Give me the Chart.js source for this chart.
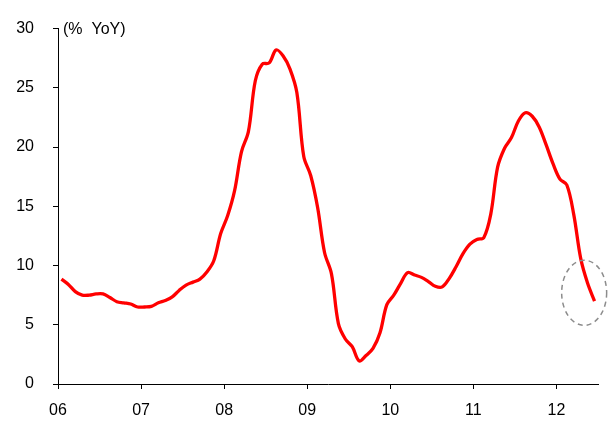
<!DOCTYPE html>
<html>
<head>
<meta charset="utf-8">
<script src="https://cdn.jsdelivr.net/npm/chart.js@4.4.1/dist/chart.umd.min.js"></script>
<style>
  body { margin: 0; background: #fff; }
</style>
</head>
<body>
<canvas id="yoyChart" width="612" height="422"></canvas>
<script>
// monthly values, Jan 2006 .. Jun 2012 (% YoY)
const values = [
  8.85, 8.4, 7.8, 7.5, 7.5, 7.6, 7.6, 7.3, 6.95, 6.85, 6.75, 6.5,
  6.5, 6.55, 6.85, 7.05, 7.35, 7.9, 8.35, 8.6, 8.85, 9.45, 10.4, 12.7,
  14.2, 16.3, 19.6, 21.3, 25.6, 27.0, 27.1, 28.2, 27.7, 26.6, 24.6, 19.2,
  17.6, 14.9, 11.1, 9.3, 5.1, 3.8, 3.15, 1.95, 2.4, 3.0, 4.3, 6.7,
  7.5, 8.5, 9.4, 9.2, 9.0, 8.65, 8.25, 8.2, 8.9, 9.9, 11.0, 11.8,
  12.2, 12.35, 14.3, 18.3, 19.9, 20.8, 22.2, 22.9, 22.6, 21.7, 20.2, 18.6,
  17.3, 16.8, 14.3, 10.6, 8.5, 7.0
];
const tickLabels = ['06', '07', '08', '09', '10', '11', '12'];
const yTicks = [0, 5, 10, 15, 20, 25, 30];

// months since Jan 2006, points sit mid-month
const months = values.map((v, i) => i + 0.5);
const points = values.map((v, i) => ({ x: months[i], y: v }));

// dashed ring round the latest readings (data units)
const ring = { x: 76.0, y: 7.7, rx: 3.25, ry: 2.75 };

const fontFamily = '"Liberation Sans", Arial, sans-serif';

const extras = {
  id: 'extras',
  afterDatasetsDraw(chart) {
    const ctx = chart.ctx;
    const xs = chart.scales.x, ys = chart.scales.y;
    const cx = xs.getPixelForValue(ring.x);
    const cy = ys.getPixelForValue(ring.y);
    const rx = Math.abs(xs.getPixelForValue(ring.x + ring.rx) - cx);
    const ry = Math.abs(ys.getPixelForValue(ring.y + ring.ry) - cy);
    ctx.save();
    ctx.beginPath();
    ctx.setLineDash([5, 4]);
    ctx.strokeStyle = '#8c8c8c';
    ctx.lineWidth = 1.5;
    ctx.ellipse(cx, cy, rx, ry, 0, 0, Math.PI * 2);
    ctx.stroke();
    ctx.restore();

    ctx.save();
    ctx.fillStyle = '#000';
    ctx.font = '16px ' + fontFamily;
    ctx.textBaseline = 'alphabetic';
    ctx.fillText('(%  YoY)', chart.chartArea.left + 5, chart.chartArea.top + 5);
    ctx.restore();
  }
};

function createChart() {
  var ctx = document.getElementById('yoyChart').getContext('2d');
  new Chart(ctx, {
    type: 'line',
    data: {
      datasets: [{
        data: points,
        borderColor: '#ff0000',
        borderWidth: 3.3,
        pointRadius: 0,
        tension: 0.35,
        fill: false
      }]
    },
    options: {
      responsive: false,
      animation: false,
      layout: { padding: { left: 0, right: 14, top: 22, bottom: 0 } },
      plugins: { legend: { display: false }, tooltip: { enabled: false } },
      scales: {
        x: {
          type: 'linear',
          min: 0,
          max: 78,
          afterBuildTicks: (s) => { s.ticks = tickLabels.map((t, i) => ({ value: i * 12 })); },
          afterFit: (s) => { s.height = 38; },
          grid: { drawOnChartArea: false, drawTicks: true, tickLength: 5, color: '#000' },
          border: { display: true, color: '#000', width: 1 },
          ticks: {
            color: '#000',
            padding: 12,
            maxRotation: 0,
            font: { family: fontFamily, size: 16 },
            callback: (v) => tickLabels[Math.round(v / 12)]
          }
        },
        y: {
          min: 0,
          max: 30,
          afterBuildTicks: (s) => { s.ticks = yTicks.map(v => ({ value: v })); },
          afterFit: (s) => { s.width = 58; },
          grid: { drawOnChartArea: false, drawTicks: true, tickLength: 5, color: '#000' },
          border: { display: true, color: '#000', width: 1 },
          ticks: {
            color: '#000',
            padding: 19,
            font: { family: fontFamily, size: 16 }
          }
        }
      }
    },
    plugins: [extras]
  });
}

window.onload = function() {
  createChart();
};
</script>
</body>
</html>
